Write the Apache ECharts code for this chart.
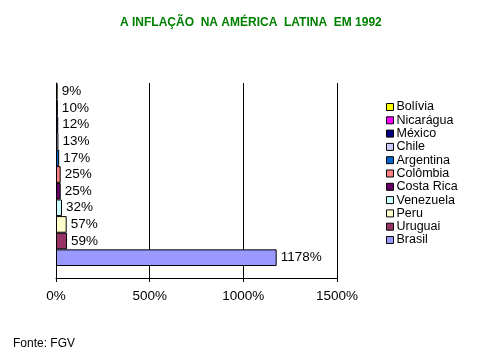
<!DOCTYPE html>
<html><head><meta charset="utf-8">
<script src="https://cdn.jsdelivr.net/npm/echarts@6/dist/echarts.min.js"></script>
<style>html,body{margin:0;padding:0;background:#fff}#c{width:480px;height:360px}</style>
</head><body><div id="c"></div>
<script>
const countries = ['Bolívia','Nicarágua','México','Chile','Argentina','Colômbia','Costa Rica','Venezuela','Peru','Uruguai','Brasil'];
const inflation = [9,10,12,13,17,25,25,32,57,59,1178];
const colors = ['#FFFF00','#FF00FF','#000080','#CCCCFF','#0066CC','#FF8080','#660066','#CCFFFF','#FFFFCC','#993366','#9999FF'];
const xTicks = [0,500,1000,1500];
const titleText = 'A INFLAÇÃO  NA AMÉRICA  LATINA  EM 1992';
const sourceText = 'Fonte: FGV';

const FONT = 'Liberation Sans, Arial, sans-serif';
const chart = echarts.init(document.getElementById('c'), null, {renderer:'canvas'});
const series = countries.map((name,i)=>({
  name, type:'bar', xAxisIndex:1, yAxisIndex:1,
  data:[inflation[i]],
  barGap:'0%', barCategoryGap:'0%',
  itemStyle:{color:colors[i], borderColor:'#000', borderWidth:1},
  label:{show:true, position:'right', distance:4, formatter:p=>p.value+'%', color:'#000', fontFamily:FONT, fontSize:13.5},
  emphasis:{disabled:true}, animation:false
}));
chart.setOption({
  animation:false,
  title:[{text:titleText, left:115, top:12,
    textStyle:{color:'#008000', fontWeight:'bold', fontSize:12, fontFamily:FONT}},
   {text:sourceText, left:8, top:333, textStyle:{color:'#000', fontWeight:'normal', fontSize:12, fontFamily:FONT}}],
  legend:{orient:'vertical', left:386, top:100.5, padding:0, itemWidth:7, itemHeight:7, itemGap:0.3,
    icon:'rect', data:countries, selectedMode:false,
    itemStyle:{borderColor:'#000', borderWidth:1},
    textStyle:{fontFamily:FONT, fontSize:12.5, color:'#000', padding:[0,0,0,-2], lineHeight:12}},
  grid:[{left:56, right:143, top:83, bottom:82},
        {left:56, right:143, top:83, height:183}],
  xAxis:[{gridIndex:0, type:'value', min:xTicks[0], max:xTicks[xTicks.length-1], interval:500,
      axisLine:{show:true, lineStyle:{color:'#000'}},
      axisTick:{show:true, length:4, lineStyle:{color:'#000'}},
      splitLine:{show:true, lineStyle:{color:'#000'}},
      axisLabel:{formatter:v=>v+'%', color:'#000', fontFamily:FONT, fontSize:13.5, margin:11}},
    {gridIndex:1, type:'value', min:xTicks[0], max:xTicks[xTicks.length-1], show:false}],
  yAxis:[{gridIndex:0, type:'category', data:[''], axisLine:{show:true, lineStyle:{color:'#000'}},
      axisTick:{show:false}, axisLabel:{show:false}},
    {gridIndex:1, type:'category', data:[''], show:false, inverse:true}],
  series
});
</script></body></html>
